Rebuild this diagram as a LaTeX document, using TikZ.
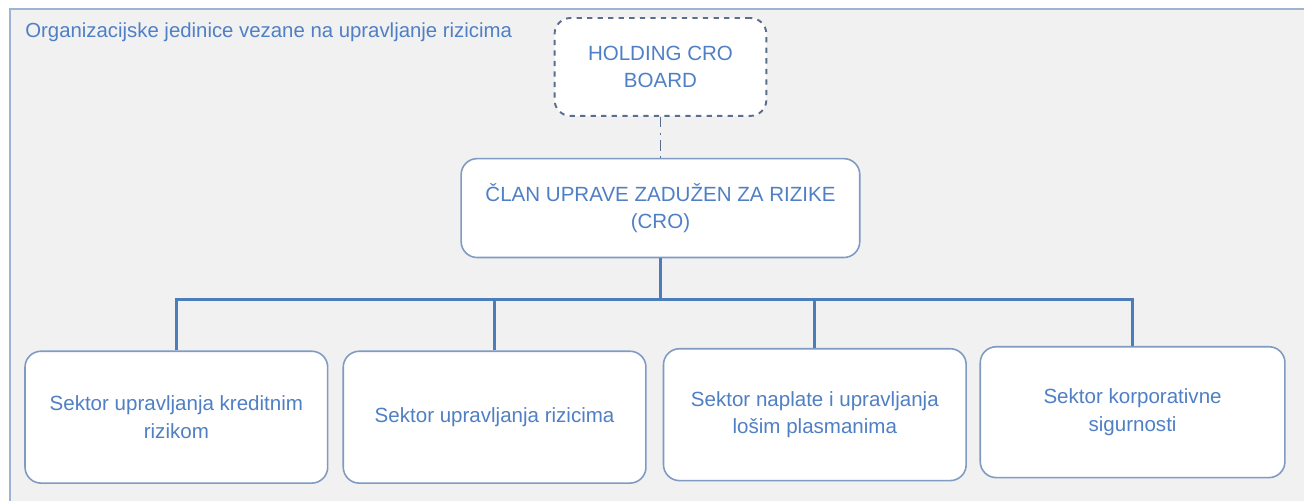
\documentclass[tikz,border=0pt]{standalone}
\usepackage{fontspec}
\setmainfont{Liberation Sans}
\usetikzlibrary{positioning}

\definecolor{txtblue}{HTML}{4F7FC4}
\definecolor{lineblue}{HTML}{4A7DBA}
\definecolor{boxline}{HTML}{7F9BC2}
\definecolor{dashline}{HTML}{5A6E8E}
\definecolor{frameline}{HTML}{9DB4D2}
\definecolor{bggrey}{HTML}{F1F1F1}

\begin{document}
\begin{tikzpicture}
    [
      x=0.02cm, y=-0.02cm,
      BOX/.style={rectangle, rounded corners=0.32cm, draw=boxline, fill=white, line width=0.9pt, text=txtblue, align=center, font=\fontsize{11.7}{15.4}\selectfont},
      SECTOR/.style={BOX, minimum width=6.06cm, minimum height=2.64cm},
      HOLDBOX/.style={BOX, dashed, draw=dashline, line width=1.1pt, minimum width=4.24cm, minimum height=1.96cm},
      CONN/.style={line width=0.6mm, lineblue},
    ]

    % background and frame
    \fill[white] (0,0) rectangle (1305,501);
    \fill[bggrey] (10,9) rectangle (1305,501);
    \draw[frameline, line width=1.2pt] (10,501) -- (10,9) -- (1305,9);
    \useasboundingbox (0,0) rectangle (1305,501);

    \node[anchor=west, text=txtblue, font=\fontsize{11.6}{14}\selectfont, inner sep=0pt] (title) at (25,32) {Organizacijske jedinice vezane na upravljanje rizicima};

    \node[HOLDBOX] (holding) at (661,67) {HOLDING CRO\\BOARD};
    \node[BOX, minimum width=7.98cm, minimum height=1.98cm] (cro) [below = 0.82cm of holding] {ČLAN UPRAVE ZADUŽEN ZA RIZIKE\\(CRO)};

    \node[SECTOR] (credit) at (176.5,417.5) {Sektor upravljanja kreditnim\\rizikom};
    \node[SECTOR] (risk) at (495,417.5) {Sektor upravljanja rizicima};
    \node[SECTOR] (collect) at (815.5,415) {Sektor naplate i upravljanja\\lošim plasmanima};
    \node[SECTOR, minimum width=6.1cm, minimum height=2.62cm] (security) at (1133.5,412.5) {Sektor korporativne\\sigurnosti};

    \draw[ -, line width=1pt, dashline, dash pattern=on 6pt off 3pt on 1.2pt off 3pt] (holding) to (cro);
    \draw[CONN] (cro.south) -- ++(0,41) coordinate (bus);
    \draw[CONN] (credit.north) -- (credit.north |- bus) -- (security.north |- bus) -- (security.north);
    \draw[CONN] (risk.north) -- (risk.north |- bus);
    \draw[CONN] (collect.north) -- (collect.north |- bus);

  \end{tikzpicture}
\end{document}
